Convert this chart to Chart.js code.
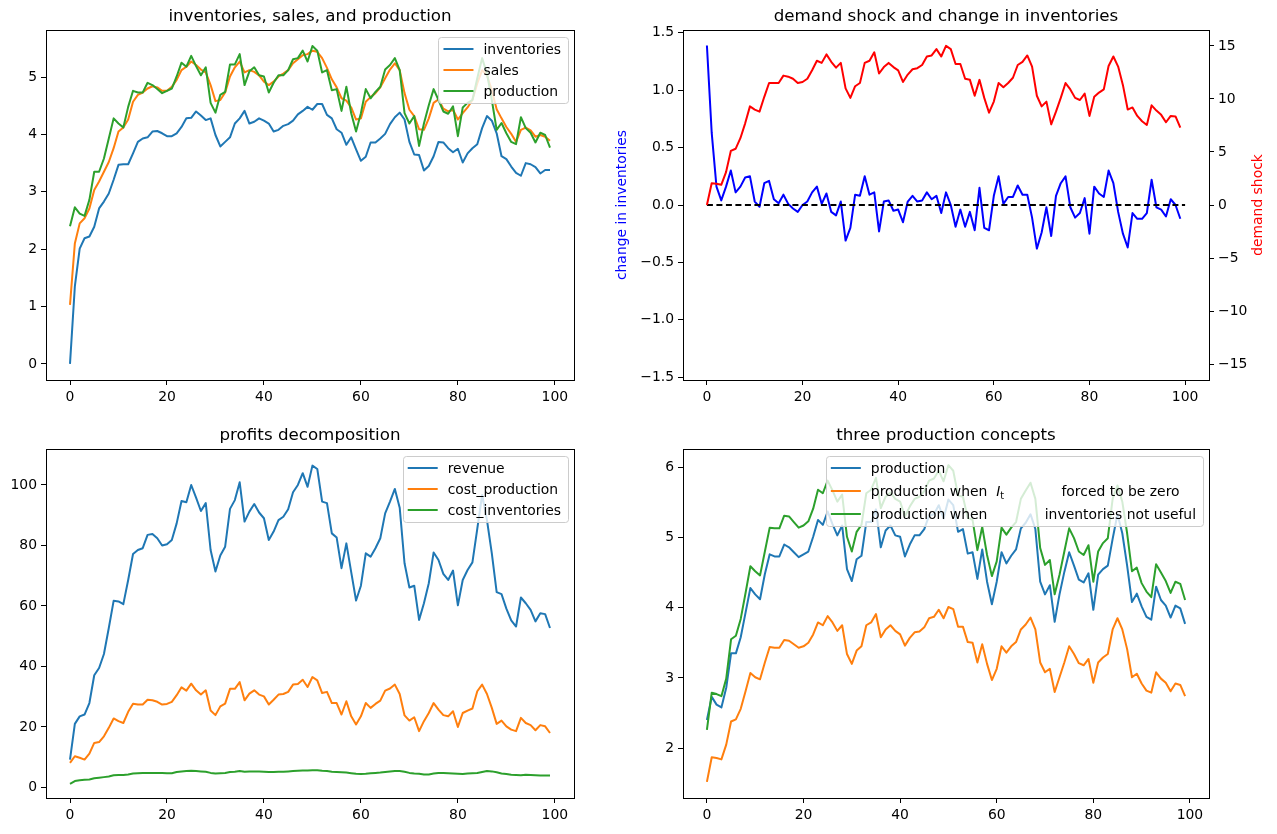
<!DOCTYPE html>
<html>
<head>
<meta charset="utf-8">
<title>inventories, sales, and production</title>
<script src="https://cdn.jsdelivr.net/npm/chart.js@4.4.1/dist/chart.umd.min.js"></script>
<style>
  html, body { margin: 0; padding: 0; background: #fff; }
  body { width: 1277px; height: 834px; position: relative; overflow: hidden; }
  canvas { position: absolute; }
</style>
</head>
<body>
<canvas id="inventoriesChart"></canvas>
<canvas id="shockChart"></canvas>
<canvas id="profitsChart"></canvas>
<canvas id="conceptsChart"></canvas>
<script>
// time index of the simulation
const periods = Array.from({ length: 100 }, (_, t) => t);
const xTicks = [0, 20, 40, 60, 80, 100];

// panel 1: inventories, sales, and production
const inventories = [
  0.00, 1.35, 2.01, 2.19, 2.22, 2.39, 2.71, 2.83, 2.97, 3.21,
  3.47, 3.48, 3.48, 3.67, 3.87, 3.93, 3.95, 4.05, 4.06, 4.02,
  3.97, 3.97, 4.02, 4.13, 4.28, 4.29, 4.40, 4.33, 4.25, 4.28,
  3.99, 3.79, 3.87, 3.95, 4.19, 4.28, 4.41, 4.19, 4.22, 4.28,
  4.24, 4.19, 4.05, 4.08, 4.15, 4.18, 4.24, 4.35, 4.41, 4.48,
  4.43, 4.53, 4.53, 4.34, 4.28, 4.09, 4.03, 3.82, 3.95, 3.74,
  3.54, 3.61, 3.86, 3.86, 3.93, 4.01, 4.18, 4.30, 4.38, 4.26,
  3.87, 3.65, 3.64, 3.37, 3.45, 3.62, 3.87, 3.86, 3.76, 3.69,
  3.75, 3.51, 3.67, 3.76, 3.83, 4.11, 4.32, 4.24, 4.02, 3.62,
  3.57, 3.44, 3.33, 3.28, 3.50, 3.48, 3.43, 3.32, 3.38, 3.38
];
const sales = [
  1.03, 2.10, 2.45, 2.54, 2.71, 3.03, 3.18, 3.35, 3.52, 3.76,
  4.05, 4.12, 4.26, 4.57, 4.69, 4.73, 4.80, 4.84, 4.82, 4.76,
  4.76, 4.83, 4.95, 5.12, 5.18, 5.27, 5.21, 5.13, 5.08, 4.86,
  4.58, 4.60, 4.73, 5.01, 5.17, 5.27, 5.08, 5.12, 5.09, 5.03,
  4.92, 4.86, 4.92, 5.01, 5.06, 5.12, 5.24, 5.31, 5.38, 5.40,
  5.46, 5.44, 5.33, 5.16, 4.96, 4.82, 4.63, 4.59, 4.47, 4.26,
  4.28, 4.57, 4.65, 4.72, 4.82, 4.98, 5.13, 5.24, 5.12, 4.72,
  4.43, 4.32, 4.09, 4.08, 4.28, 4.55, 4.61, 4.45, 4.40, 4.43,
  4.26, 4.37, 4.47, 4.60, 4.89, 5.12, 5.03, 4.77, 4.44, 4.28,
  4.13, 4.01, 3.87, 4.08, 4.12, 4.07, 3.96, 3.99, 3.96, 3.89
];
const production = [
  2.40, 2.73, 2.62, 2.58, 2.86, 3.35, 3.35, 3.58, 3.93, 4.28,
  4.19, 4.12, 4.48, 4.76, 4.73, 4.73, 4.90, 4.86, 4.79, 4.72,
  4.76, 4.80, 5.01, 5.25, 5.18, 5.37, 5.19, 5.03, 5.17, 4.55,
  4.38, 4.69, 4.74, 5.22, 5.22, 5.40, 4.86, 5.10, 5.17, 5.03,
  5.01, 4.73, 4.90, 5.03, 5.03, 5.12, 5.31, 5.33, 5.46, 5.27,
  5.54, 5.46, 5.08, 5.12, 4.77, 4.79, 4.41, 4.83, 4.37, 4.05,
  4.37, 4.79, 4.63, 4.74, 4.83, 5.13, 5.21, 5.33, 5.12, 4.37,
  4.19, 4.32, 3.80, 4.19, 4.51, 4.79, 4.60, 4.40, 4.36, 4.49,
  3.97, 4.47, 4.55, 4.60, 4.98, 5.33, 5.06, 4.60, 4.08, 4.20,
  4.02, 3.87, 3.83, 4.30, 4.11, 4.03, 3.86, 4.03, 3.99, 3.77
];
const levelTicks = [0, 1, 2, 3, 4, 5];

// panel 2: demand shock and change in inventories
const changeInInventories = [
  1.39, 0.63, 0.16, 0.04, 0.16, 0.30, 0.11, 0.16, 0.24, 0.25,
  0.03, -0.015, 0.19, 0.21, 0.05, 0.015, 0.09, 0.01, -0.03, -0.06,
  0.00, 0.03, 0.11, 0.16, 0.01, 0.10, -0.06, -0.09, 0.03, -0.31,
  -0.20, 0.09, 0.08, 0.25, 0.09, 0.11, -0.23, 0.03, 0.04, -0.05,
  -0.04, -0.15, 0.03, 0.08, 0.03, 0.04, 0.11, 0.05, 0.08, -0.07,
  0.11, 0.00, -0.19, -0.04, -0.19, -0.06, -0.22, 0.15, -0.20, -0.22,
  0.08, 0.25, 0.01, 0.07, 0.07, 0.17, 0.09, 0.09, -0.11, -0.38,
  -0.24, -0.02, -0.27, 0.08, 0.19, 0.25, -0.02, -0.11, -0.07, 0.06,
  -0.25, 0.16, 0.10, 0.07, 0.30, 0.19, -0.06, -0.25, -0.37, -0.07,
  -0.12, -0.12, -0.07, 0.22, -0.02, -0.04, -0.10, 0.05, 0.00, -0.12
];
const demandShock = [
  0.0, 2.05, 2.0, 1.9, 3.1, 5.1, 5.3, 6.3, 7.7, 9.3,
  9.0, 8.8, 10.2, 11.5, 11.5, 11.5, 12.2, 12.1, 11.9, 11.5,
  11.6, 11.9, 12.7, 13.6, 13.4, 14.2, 13.5, 12.95, 13.4, 11.0,
  10.1, 11.2, 11.5, 13.4, 13.6, 14.4, 12.4, 13.0, 13.4, 13.0,
  12.7, 11.6, 12.3, 12.8, 12.9, 13.2, 14.0, 14.1, 14.7, 14.0,
  15.0, 14.7, 13.3, 13.3, 11.9, 11.8, 10.3, 11.8, 10.1, 8.7,
  9.75, 11.5, 11.1, 11.5, 12.0, 13.2, 13.5, 14.1, 13.05, 10.3,
  9.3, 9.75, 7.6, 8.8, 10.1, 11.5, 10.9, 10.1, 9.9, 10.5,
  8.4, 10.2, 10.6, 10.9, 13.1, 14.0, 13.05, 11.3, 9.0, 9.2,
  8.4, 7.9, 7.55, 9.4, 8.9, 8.5, 7.8, 8.4, 8.35, 7.3
];
const zeroLineX = [0, 100];
const changeTicks = [-1.5, -1.0, -0.5, 0, 0.5, 1.0, 1.5];
const shockTicks = [-15, -10, -5, 0, 5, 10, 15];

// panel 3: profits decomposition
const revenue = [
  9.2, 21.0, 23.5, 24.1, 27.9, 37.1, 39.5, 44.1, 52.7, 61.7,
  61.5, 60.6, 68.6, 77.2, 78.5, 79.1, 83.5, 83.8, 82.4, 80.0,
  80.4, 81.8, 87.3, 94.7, 94.3, 100.0, 95.8, 91.4, 94.0, 78.5,
  71.4, 76.7, 79.6, 92.1, 95.0, 100.9, 87.9, 91.2, 93.7, 90.9,
  89.0, 81.8, 84.6, 88.4, 89.5, 92.0, 97.6, 100.0, 103.9, 99.4,
  106.4, 105.3, 94.5, 94.0, 84.0, 82.6, 72.5, 80.7, 71.2, 61.8,
  66.7, 77.4, 76.3, 79.1, 82.4, 90.6, 94.5, 98.7, 92.5, 74.1,
  66.1, 66.7, 55.4, 60.9, 67.5, 77.7, 75.2, 70.6, 68.6, 71.7,
  60.2, 68.6, 71.9, 74.4, 85.5, 96.7, 88.4, 77.4, 64.6, 63.9,
  59.1, 55.2, 53.2, 62.8, 60.9, 58.7, 54.9, 57.6, 57.3, 52.7
];
const costProduction = [
  8.1, 10.3, 9.8, 9.2, 11.2, 14.7, 15.0, 16.9, 19.7, 22.8,
  21.9, 21.3, 25.0, 27.7, 27.4, 27.4, 29.0, 28.8, 28.3, 27.4,
  27.6, 28.3, 30.5, 33.1, 32.0, 34.3, 32.1, 30.7, 32.1, 25.4,
  23.9, 26.8, 27.7, 32.6, 32.6, 34.8, 28.8, 31.0, 32.1, 30.7,
  30.1, 27.4, 29.0, 30.7, 30.9, 31.6, 34.0, 34.2, 35.6, 33.2,
  36.5, 35.4, 31.2, 31.6, 27.9, 27.9, 24.1, 28.5, 23.5, 20.8,
  23.5, 27.9, 26.3, 27.6, 28.7, 32.0, 32.7, 34.0, 30.9, 23.8,
  22.1, 23.2, 18.6, 21.9, 24.6, 27.9, 25.7, 23.9, 23.5, 25.2,
  20.0, 24.6, 25.4, 26.1, 31.8, 34.0, 30.9, 26.3, 21.0, 22.1,
  20.2, 19.1, 18.6, 23.0, 21.3, 20.6, 18.9, 20.6, 20.2, 18.0
];
const costInventories = [
  1.2, 2.1, 2.4, 2.5, 2.6, 3.0, 3.2, 3.4, 3.6, 4.0,
  4.1, 4.1, 4.3, 4.6, 4.7, 4.8, 4.8, 4.8, 4.8, 4.8,
  4.7, 4.7, 5.1, 5.3, 5.4, 5.5, 5.4, 5.3, 5.2, 4.8,
  4.6, 4.7, 4.8, 5.1, 5.2, 5.4, 5.2, 5.3, 5.3, 5.3,
  5.2, 5.1, 5.1, 5.2, 5.2, 5.3, 5.4, 5.5, 5.6, 5.6,
  5.7, 5.7, 5.5, 5.4, 5.2, 5.1, 5.0, 4.9, 4.7, 4.5,
  4.4, 4.5, 4.7, 4.8, 4.9, 5.1, 5.3, 5.4, 5.4, 5.2,
  4.8, 4.6, 4.5, 4.3, 4.3, 4.6, 4.8, 4.8, 4.7, 4.6,
  4.5, 4.4, 4.6, 4.7, 4.8, 5.1, 5.4, 5.3, 5.0, 4.6,
  4.4, 4.2, 4.1, 4.0, 4.2, 4.1, 4.0, 3.9, 3.9, 3.9
];
const profitTicks = [0, 20, 40, 60, 80, 100];

// panel 4: three production concepts
const productionZeroInventories = [
  1.52, 1.87, 1.86, 1.84, 2.05, 2.38, 2.41, 2.56, 2.81, 3.07,
  3.01, 2.98, 3.22, 3.44, 3.43, 3.43, 3.54, 3.53, 3.48, 3.43,
  3.45, 3.50, 3.62, 3.79, 3.75, 3.88, 3.79, 3.67, 3.75, 3.34,
  3.20, 3.39, 3.45, 3.75, 3.79, 3.91, 3.58, 3.69, 3.75, 3.67,
  3.62, 3.46, 3.57, 3.65, 3.66, 3.72, 3.85, 3.87, 3.97, 3.85,
  4.01, 3.98, 3.73, 3.73, 3.51, 3.50, 3.22, 3.48, 3.20, 2.97,
  3.13, 3.45, 3.36, 3.45, 3.51, 3.69, 3.76, 3.86, 3.69, 3.22,
  3.08, 3.13, 2.80, 3.01, 3.22, 3.45, 3.34, 3.21, 3.18, 3.27,
  2.93, 3.22, 3.29, 3.34, 3.69, 3.85, 3.69, 3.41, 3.01, 3.06,
  2.92, 2.82, 2.79, 3.08, 2.99, 2.93, 2.81, 2.92, 2.90, 2.74
];
const productionNoUseInventories = [
  2.26, 2.79, 2.77, 2.74, 2.99, 3.55, 3.60, 3.84, 4.21, 4.59,
  4.52, 4.46, 4.80, 5.14, 5.13, 5.13, 5.31, 5.30, 5.22, 5.14,
  5.17, 5.23, 5.41, 5.68, 5.63, 5.81, 5.67, 5.51, 5.61, 5.01,
  4.80, 5.08, 5.18, 5.63, 5.68, 5.85, 5.42, 5.58, 5.64, 5.55,
  5.51, 5.30, 5.44, 5.55, 5.58, 5.66, 5.81, 5.84, 5.95, 5.80,
  6.03, 5.95, 5.60, 5.58, 5.28, 5.25, 4.82, 5.15, 4.75, 4.45,
  4.66, 5.14, 5.04, 5.14, 5.22, 5.55, 5.67, 5.78, 5.55, 4.85,
  4.61, 4.68, 4.19, 4.47, 4.80, 5.13, 4.99, 4.80, 4.75, 4.89,
  4.37, 4.80, 4.92, 4.99, 5.55, 5.74, 5.51, 5.06, 4.52, 4.57,
  4.35, 4.23, 4.15, 4.62, 4.50, 4.38, 4.21, 4.37, 4.34, 4.11
];
const conceptTicks = [2, 3, 4, 5, 6];

const FONT = '"DejaVu Sans", sans-serif';
const TAB_BLUE = '#1f77b4';
const TAB_ORANGE = '#ff7f0e';
const TAB_GREEN = '#2ca02c';

function fmt(v, decimals) {
  return v.toFixed(decimals).replace('-', '\u2212');
}

// matplotlib-like axis: outward ticks, no grid, fixed size
function makeAxis(position, min, max, ticks, decimals, size, title) {
  const horizontal = position === 'bottom';
  const axis = {
    type: 'linear',
    position: position,
    min: min,
    max: max,
    afterBuildTicks: (scale) => { scale.ticks = ticks.map(v => ({ value: v })); },
    afterFit: (scale) => {
      if (horizontal) scale.height = size;
      else scale.width = size;
    },
    grid: { drawOnChartArea: false, drawTicks: true, tickLength: 5, color: '#000', lineWidth: 1 },
    border: { display: true, color: '#000', width: 1 },
    ticks: {
      color: '#000',
      padding: 4,
      autoSkip: false,
      maxRotation: 0,
      font: { family: FONT, size: 13.9 },
      callback: (v) => fmt(v, decimals)
    }
  };
  if (title) {
    axis.title = {
      display: true,
      text: title.text,
      color: title.color,
      font: { family: FONT, size: 13.9 },
      padding: { top: 4, bottom: 4 }
    };
  }
  return axis;
}

// box round the plot area
const panelFrame = {
  id: 'panelFrame',
  afterDatasetsDraw(chart) {
    const { ctx, chartArea } = chart;
    const al = v => Math.round(v - 0.5) + 0.5;
    ctx.save();
    ctx.strokeStyle = '#000';
    ctx.lineWidth = 1;
    ctx.strokeRect(al(chartArea.left), al(chartArea.top),
      al(chartArea.right) - al(chartArea.left), al(chartArea.bottom) - al(chartArea.top));
    ctx.restore();
  }
};

// title above each panel, plus an optional label on the right, read bottom to top
const panelTitle = {
  id: 'panelTitle',
  afterDraw(chart, args, opts) {
    const { ctx, chartArea } = chart;
    ctx.save();
    ctx.font = '16.7px ' + FONT;
    ctx.fillStyle = '#000';
    ctx.textAlign = 'center';
    ctx.textBaseline = 'alphabetic';
    ctx.fillText(opts.text, (chartArea.left + chartArea.right) / 2, chartArea.top - 9);
    if (opts.rightLabel) {
      ctx.translate(chartArea.right + 49, (chartArea.top + chartArea.bottom) / 2);
      ctx.rotate(-Math.PI / 2);
      ctx.font = '13.9px ' + FONT;
      ctx.fillStyle = opts.rightColor;
      ctx.textBaseline = 'middle';
      ctx.fillText(opts.rightLabel, 0, 0);
    }
    ctx.restore();
  }
};

// draw a legend label, handling $I_t$ style math
function drawLabel(ctx, label, x, y, measureOnly) {
  const parts = label.split(/(\$[^$]+\$)/);
  let cx = x;
  parts.forEach(part => {
    if (!part) return;
    if (part.startsWith('$')) {
      const [base, sub] = part.slice(1, -1).split('_');
      ctx.font = 'italic 13.9px ' + FONT;
      if (!measureOnly) ctx.fillText(base, cx, y);
      cx += ctx.measureText(base).width;
      ctx.font = '9.7px ' + FONT;
      if (!measureOnly) ctx.fillText(sub, cx, y + 4);
      cx += ctx.measureText(sub).width;
    } else {
      ctx.font = '13.9px ' + FONT;
      if (!measureOnly) ctx.fillText(part, cx, y);
      cx += ctx.measureText(part).width;
    }
  });
  return cx - x;
}

// legend box in the upper right corner of the plot area
const panelLegend = {
  id: 'panelLegend',
  afterDraw(chart, args, opts) {
    if (!opts.display) return;
    const { ctx, chartArea } = chart;
    const items = chart.data.datasets.filter(d => d.label);
    const pitch = opts.pitch || 21;
    ctx.save();
    let textW = 0;
    items.forEach(d => { textW = Math.max(textW, drawLabel(ctx, d.label, 0, 0, true)); });
    const w = 45 + textW + 7;
    const h = 24 + (items.length - 1) * pitch;
    const right = chartArea.right - 6;
    const top = chartArea.top + 7;
    const left = right - w;

    ctx.beginPath();
    ctx.roundRect(Math.round(left) + 0.5, Math.round(top) + 0.5, Math.round(w), Math.round(h), 3);
    ctx.fillStyle = 'rgba(255,255,255,0.8)';
    ctx.fill();
    ctx.strokeStyle = '#cccccc';
    ctx.lineWidth = 1;
    ctx.stroke();

    items.forEach((d, i) => {
      const y = top + 12 + i * pitch;
      ctx.beginPath();
      ctx.moveTo(left + 5, y);
      ctx.lineTo(left + 35, y);
      ctx.strokeStyle = d.borderColor;
      ctx.lineWidth = 2;
      ctx.stroke();
      ctx.fillStyle = '#000';
      ctx.textBaseline = 'middle';
      ctx.textAlign = 'left';
      drawLabel(ctx, d.label, left + 45, y + 1, false);
    });
    ctx.restore();
  }
};

function series(label, data, color, order, extra) {
  return Object.assign({
    label: label,
    data: data,
    borderColor: color,
    backgroundColor: color,
    borderWidth: 2,
    pointRadius: 0,
    fill: false,
    tension: 0,
    borderJoinStyle: 'round',
    order: order
  }, extra || {});
}

function makePanel(id, box, title, datasets, scales, legend, padRight) {
  const canvas = document.getElementById(id);
  canvas.width = box.w;
  canvas.height = box.h;
  canvas.style.left = box.x + 'px';
  canvas.style.top = box.y + 'px';
  canvas.style.width = box.w + 'px';
  canvas.style.height = box.h + 'px';
  return new Chart(canvas.getContext('2d'), {
    type: 'line',
    data: { labels: periods, datasets: datasets },
    options: {
      responsive: false,
      animation: false,
      devicePixelRatio: 1,
      events: [],
      layout: { padding: { top: 30, right: padRight, bottom: 0, left: 0 } },
      plugins: {
        legend: { display: false },
        tooltip: { enabled: false },
        panelTitle: title,
        panelLegend: legend
      },
      scales: scales
    },
    plugins: [panelFrame, panelTitle, panelLegend]
  });
}

// panel 1
makePanel('inventoriesChart', { x: 0, y: 0, w: 594, h: 416 },
  { text: 'inventories, sales, and production' },
  [
    series('inventories', inventories, TAB_BLUE, 2),
    series('sales', sales, TAB_ORANGE, 1),
    series('production', production, TAB_GREEN, 0)
  ],
  {
    x: makeAxis('bottom', -4.95, 103.95, xTicks, 0, 36),
    y: makeAxis('left', -0.28, 5.82, levelTicks, 0, 46)
  },
  { display: true, pitch: 21 }, 20);

// panel 2
makePanel('shockChart', { x: 610, y: 0, w: 660, h: 416 },
  { text: 'demand shock and change in inventories', rightLabel: 'demand shock', rightColor: '#ff0000' },
  [
    series('', changeInInventories, '#0000ff', 2, { yAxisID: 'y' }),
    series('', zeroLineX.map(x => ({ x: x, y: 0 })), '#000000', 1, { yAxisID: 'y', borderDash: [6, 3.5] }),
    series('', demandShock, '#ff0000', 0, { yAxisID: 'y2' })
  ],
  {
    x: makeAxis('bottom', -5, 105, xTicks, 0, 36),
    y: makeAxis('left', -1.525, 1.525, changeTicks, 1, 73, { text: 'change in inventories', color: '#0000ff' }),
    y2: makeAxis('right', -16.5, 16.5, shockTicks, 0, 61)
  },
  { display: false }, 0);

// panel 3
makePanel('profitsChart', { x: 0, y: 419, w: 594, h: 415 },
  { text: 'profits decomposition' },
  [
    series('revenue', revenue, TAB_BLUE, 2),
    series('cost_production', costProduction, TAB_ORANGE, 1),
    series('cost_inventories', costInventories, TAB_GREEN, 0)
  ],
  {
    x: makeAxis('bottom', -4.95, 103.95, xTicks, 0, 36),
    y: makeAxis('left', -3.5, 111.9, profitTicks, 0, 46)
  },
  { display: true, pitch: 21 }, 20);

// panel 4
makePanel('conceptsChart', { x: 643, y: 419, w: 586, h: 415 },
  { text: 'three production concepts' },
  [
    series('production', production, TAB_BLUE, 2),
    series('production when  $I_t$             forced to be zero', productionZeroInventories, TAB_ORANGE, 1),
    series('production when             inventories not useful', productionNoUseInventories, TAB_GREEN, 0)
  ],
  {
    x: makeAxis('bottom', -4.95, 103.95, xTicks, 0, 36),
    y: makeAxis('left', 1.29, 6.26, conceptTicks, 0, 40)
  },
  { display: true, pitch: 23 }, 20);
</script>
</body>
</html>
